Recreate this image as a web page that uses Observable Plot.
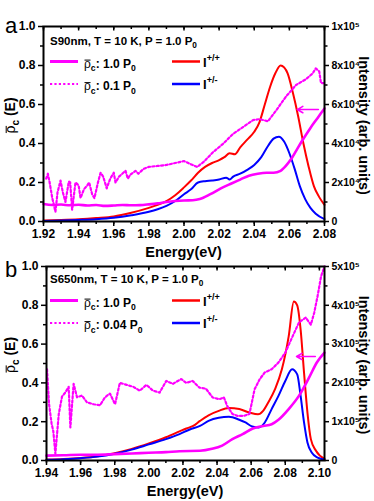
<!DOCTYPE html>
<html><head><meta charset="utf-8">
<script src="https://cdn.jsdelivr.net/npm/d3@7"></script>
<script src="https://cdn.jsdelivr.net/npm/@observablehq/plot@0.6"></script>
<style>
body{margin:0;background:#fff;}
#chart{width:374px;height:501px;position:relative;overflow:hidden;background:#fff;}
#chart svg{position:absolute;left:0;overflow:visible;}
</style></head><body><div id="chart"></div>
<script>
// ---------- Panel a (S90nm) ----------
const aXDomain = [1.92, 2.08];
const aXTicks = [1.92, 1.94, 1.96, 1.98, 2.00, 2.02, 2.04, 2.06, 2.08];
const rhoTicks = [0, 0.2, 0.4, 0.6, 0.8, 1.0];
const rhoMinor = [0.1, 0.3, 0.5, 0.7, 0.9];
const aIntMax = 100000;
const aIntTicks = [0, 20000, 40000, 60000, 80000, 100000];
const aIntLabels = ["0", "2x10⁴", "4x10⁴", "6x10⁴", "8x10⁴", "1x10⁵"];

const aRedE = [1.92, 1.93, 1.94, 1.95, 1.96, 1.97, 1.98, 1.985, 1.99, 1.995, 2.0, 2.004, 2.008, 2.012, 2.016, 2.02, 2.023, 2.026, 2.029, 2.032, 2.036, 2.04, 2.043, 2.046, 2.049, 2.052, 2.055, 2.057, 2.059, 2.062, 2.065, 2.068, 2.071, 2.074, 2.077, 2.08];
const aRedI = [500, 800, 1200, 1800, 2600, 4500, 7000, 8500, 10500, 13500, 17500, 21000, 25000, 28000, 30000, 31500, 33000, 35000, 34500, 38000, 42000, 46000, 51000, 60000, 69000, 76000, 80000, 79000, 76000, 66000, 54000, 40000, 28000, 18000, 12500, 8500];

const aBlueE = [1.92, 1.93, 1.94, 1.95, 1.96, 1.97, 1.98, 1.985, 1.99, 1.995, 2.0, 2.004, 2.008, 2.012, 2.016, 2.02, 2.024, 2.026, 2.028, 2.032, 2.036, 2.04, 2.044, 2.048, 2.051, 2.054, 2.057, 2.06, 2.063, 2.066, 2.069, 2.072, 2.075, 2.08];
const aBlueI = [300, 500, 800, 1200, 1900, 3200, 5000, 6300, 8000, 10500, 14000, 16500, 20000, 20700, 21000, 21500, 22500, 21500, 23000, 24500, 26500, 29000, 33000, 39000, 42500, 43500, 41000, 35000, 27000, 18000, 11500, 7000, 4000, 1200];

const aRhoHighE = [1.92, 1.925, 1.93, 1.935, 1.94, 1.945, 1.95, 1.955, 1.96, 1.965, 1.97, 1.975, 1.98, 1.985, 1.99, 1.995, 2.0, 2.005, 2.009, 2.015, 2.021, 2.027, 2.032, 2.037, 2.042, 2.047, 2.051, 2.055, 2.058, 2.061, 2.064, 2.067, 2.072, 2.076, 2.08];
const aRhoHigh = [0.09, 0.085, 0.087, 0.083, 0.086, 0.082, 0.085, 0.08, 0.082, 0.085, 0.083, 0.084, 0.088, 0.093, 0.1, 0.105, 0.108, 0.109, 0.115, 0.14, 0.17, 0.195, 0.215, 0.235, 0.245, 0.25, 0.25, 0.26, 0.285, 0.32, 0.365, 0.41, 0.48, 0.53, 0.58];

const aRhoLowE = [1.9215, 1.9225, 1.9235, 1.925, 1.9268, 1.928, 1.9297, 1.931, 1.9325, 1.9344, 1.9352, 1.9363, 1.9382, 1.94, 1.9411, 1.943, 1.9449, 1.946, 1.9477, 1.949, 1.951, 1.9525, 1.954, 1.956, 1.958, 1.96, 1.961, 1.963, 1.9667, 1.968, 1.9695, 1.9724, 1.974, 1.977, 1.98, 1.985, 1.99, 1.995, 2.0, 2.0035, 2.0075, 2.011, 2.0165, 2.0222, 2.028, 2.0336, 2.0393, 2.043, 2.0478, 2.0525, 2.058, 2.0638, 2.0695, 2.0733, 2.075, 2.077, 2.078, 2.08];
const aRhoLow = [0.22, 0.245, 0.2, 0.12, 0.05, 0.15, 0.21, 0.15, 0.1, 0.205, 0.2, 0.06, 0.2, 0.185, 0.12, 0.165, 0.185, 0.2, 0.14, 0.12, 0.2, 0.25, 0.23, 0.17, 0.22, 0.25, 0.2, 0.23, 0.26, 0.22, 0.24, 0.26, 0.245, 0.27, 0.28, 0.285, 0.29, 0.3, 0.31, 0.295, 0.28, 0.304, 0.355, 0.398, 0.45, 0.484, 0.52, 0.525, 0.514, 0.57, 0.64, 0.7, 0.73, 0.76, 0.785, 0.77, 0.71, 0.71];

const aArrow = [{E1: 2.0765, r1: 0.574, E2: 2.0645, r2: 0.574}];

// ---------- Panel b (S650nm) ----------
const bXDomain = [1.94, 2.103];
const bXTicks = [1.94, 1.96, 1.98, 2.00, 2.02, 2.04, 2.06, 2.08, 2.10];
const bIntMax = 500000;
const bIntTicks = [0, 100000, 200000, 300000, 400000, 500000];
const bIntLabels = ["0", "1x10⁵", "2x10⁵", "3x10⁵", "4x10⁵", "5x10⁵"];

const bRedE = [1.94, 1.95, 1.96, 1.97, 1.98, 1.99, 2.0, 2.01, 2.018, 2.022, 2.026, 2.03, 2.035, 2.041, 2.047, 2.053, 2.059, 2.064, 2.067, 2.07, 2.074, 2.078, 2.082, 2.085, 2.087, 2.089, 2.091, 2.093, 2.095, 2.098, 2.103];
const bRedI = [2500, 4000, 6500, 11000, 19000, 30000, 44000, 60000, 75000, 82500, 89000, 102000, 116500, 128000, 135000, 132500, 123500, 119000, 128000, 149500, 184000, 235000, 320000, 410000, 400000, 337500, 226500, 123500, 55000, 25000, 4000];

const bBlueE = [1.94, 1.95, 1.96, 1.97, 1.98, 1.99, 2.0, 2.01, 2.018, 2.024, 2.03, 2.035, 2.041, 2.047, 2.053, 2.0567, 2.0606, 2.0645, 2.068, 2.072, 2.076, 2.08, 2.084, 2.087, 2.089, 2.091, 2.093, 2.0956, 2.099, 2.103];
const bBlueI = [2000, 3500, 6000, 10000, 17500, 28000, 41500, 55000, 68000, 80000, 89000, 102000, 110000, 112500, 105000, 98000, 87500, 85000, 98000, 132500, 166500, 205000, 235000, 222000, 166500, 98000, 46500, 20000, 7500, 2500];

const bRhoHighE = [1.94, 1.95, 1.96, 1.97, 1.98, 1.99, 2.0, 2.01, 2.018, 2.03, 2.037, 2.043, 2.049, 2.055, 2.061, 2.067, 2.072, 2.076, 2.082, 2.088, 2.094, 2.0985, 2.103];
const bRhoHigh = [0.025, 0.027, 0.03, 0.03, 0.033, 0.036, 0.04, 0.043, 0.048, 0.05, 0.06, 0.077, 0.11, 0.136, 0.165, 0.178, 0.187, 0.21, 0.265, 0.333, 0.428, 0.505, 0.556];

const bRhoLowE = [1.9403, 1.9415, 1.943, 1.944, 1.9452, 1.9472, 1.9491, 1.951, 1.953, 1.954, 1.9559, 1.9579, 1.9608, 1.9637, 1.9675, 1.9714, 1.9743, 1.9772, 1.9802, 1.983, 1.987, 1.9908, 1.9947, 1.9986, 2.0024, 2.0063, 2.0102, 2.0141, 2.019, 2.0219, 2.0257, 2.0296, 2.0335, 2.0374, 2.0413, 2.044, 2.046, 2.049, 2.052, 2.0557, 2.059, 2.062, 2.065, 2.068, 2.072, 2.076, 2.08, 2.084, 2.088, 2.092, 2.095, 2.097, 2.099, 2.101, 2.103];
const bRhoLow = [0.47, 0.29, 0.19, 0.15, 0.035, 0.24, 0.33, 0.35, 0.38, 0.17, 0.395, 0.326, 0.335, 0.3, 0.29, 0.285, 0.326, 0.345, 0.29, 0.4, 0.39, 0.38, 0.36, 0.39, 0.36, 0.35, 0.41, 0.395, 0.42, 0.4, 0.41, 0.376, 0.37, 0.325, 0.316, 0.325, 0.28, 0.24, 0.23, 0.23, 0.24, 0.367, 0.419, 0.454, 0.47, 0.505, 0.556, 0.634, 0.711, 0.737, 0.7, 0.763, 0.85, 0.95, 1.0];

const bArrow = [{E1: 2.0976, r1: 0.536, E2: 2.0866, r2: 0.536}];

// ---------- rendering ----------
const MAGENTA = "#ff00ff", RED = "#ff0000", BLUE = "#0000ff";
const FONT = "'Liberation Sans', Arial, Helvetica, sans-serif";
const DOTS = "2.2,2.2";
const tbl = (E, V) => E.map((e, i) => ({E: e, V: V[i]}));

function minorTicks(domain) {
  const out = [];
  const a = Math.ceil(domain[0] * 100 - 1e-6), b = Math.floor(domain[1] * 100 + 1e-6);
  for (let k = a; k <= b; k++) out.push(k / 100);
  return out;
}

function panel(cfg) {
  const minor = minorTicks(cfg.xDomain);
  const intNorm = cfg.intTicks.map(v => v / cfg.intMax);
  const plotH = cfg.height - cfg.marginTop - cfg.marginBottom;
  const tk = h => 1 - h / plotH;
  return Plot.plot({
    width: 374, height: cfg.height,
    marginLeft: cfg.marginLeft, marginRight: 50, marginTop: cfg.marginTop, marginBottom: cfg.marginBottom,
    x: {domain: cfg.xDomain, label: null},
    y: {domain: [0, 1], label: null},
    style: {fontFamily: FONT, background: "transparent", overflow: "visible", color: "black"},
    marks: [
      Plot.line(tbl(cfg.redE, cfg.redI), {x: "E", y: d => d.V / cfg.intMax, stroke: RED, strokeWidth: 2, curve: "monotone-x"}),
      Plot.line(tbl(cfg.blueE, cfg.blueI), {x: "E", y: d => d.V / cfg.intMax, stroke: BLUE, strokeWidth: 2, curve: "monotone-x"}),
      Plot.line(tbl(cfg.hiE, cfg.hi), {x: "E", y: "V", stroke: MAGENTA, strokeWidth: 2.6, curve: "monotone-x"}),
      Plot.line(tbl(cfg.loE, cfg.lo), {x: "E", y: "V", stroke: MAGENTA, strokeWidth: 2.2, strokeDasharray: DOTS}),
      Plot.arrow(cfg.arrow, {x1: "E1", y1: "r1", x2: "E2", y2: "r2", stroke: MAGENTA, strokeWidth: 1.6, headLength: 6}),
      // axes
      Plot.axisX({ticks: cfg.xTicks, tickSize: 5, tickPadding: 3, strokeWidth: 1.5, tickFormat: d3.format(".2f"), fontSize: 12, fontWeight: "bold", label: null}),
      Plot.axisX({ticks: minor, tickSize: 3, strokeWidth: 1.5, tickFormat: () => "", label: null}),
      Plot.ruleX(cfg.xTicks, {x: d => d, y1: 1, y2: tk(4.5), stroke: "black", strokeWidth: 1.5}),
      Plot.ruleX(minor, {x: d => d, y1: 1, y2: tk(3), stroke: "black", strokeWidth: 1.5}),
      Plot.axisY({anchor: "left", ticks: rhoTicks, tickSize: 5, tickPadding: 3, strokeWidth: 1.5, tickFormat: d3.format(".1f"), fontSize: 12, fontWeight: "bold", label: null}),
      Plot.axisY({anchor: "left", ticks: rhoMinor, tickSize: 3, strokeWidth: 1.5, tickFormat: () => "", label: null}),
      Plot.axisY({anchor: "right", ticks: intNorm, tickSize: 4, tickPadding: 3, strokeWidth: 1.5,
        tickFormat: d => cfg.intLabels[intNorm.findIndex(v => Math.abs(v - d) < 1e-9)],
        fontSize: 10.5, fontWeight: "bold", label: null}),
      Plot.axisY({anchor: "right", ticks: rhoMinor, tickSize: 2.5, strokeWidth: 1.5, tickFormat: () => "", label: null}),
      Plot.frame({stroke: "black", strokeWidth: 2})
    ]
  });
}

function rich(g, x, y, size, parts, anchor) {
  const t = g.append("text").attr("x", x).attr("y", y).attr("font-size", size)
    .attr("font-weight", "bold").attr("fill", "black").attr("text-anchor", anchor || "start");
  let shift = 0;
  for (const p of parts) {
    const s = t.append("tspan").text(p.t);
    let target = 0;
    if (p.sub) { s.attr("font-size", size * 0.72); target = size * 0.3; }
    if (p.sup) { s.attr("font-size", size * 0.7); target = -size * 0.45; }
    if (p.normal) s.attr("font-weight", "normal");
    s.attr("dy", target - shift);
    shift = target;
  }
  return t;
}

const overlines = [];
function rhoText(g, x, y, size, rest, anchor) {
  const parts = [{t: "ρ", normal: true}, {t: "c", sub: true}].concat(rest);
  const t = rich(g, x, y, size, parts, anchor);
  overlines.push({t, size});
  return t;
}

function decorate(svg, cfg) {
  const s = d3.select(svg);
  const g = s.append("g").attr("text-anchor", "start");
  const top = cfg.marginTop, bottom = cfg.height - cfg.marginBottom;
  const left = cfg.marginLeft, right = 324;
  g.append("text").attr("x", 5).attr("y", top + cfg.letterDy).attr("font-size", 22).attr("text-anchor", "start").attr("fill", "black").text(cfg.letter);
  g.append("text").attr("x", (left + right) / 2).attr("y", bottom + 36).attr("text-anchor", "middle")
    .attr("font-size", 14.5).attr("font-weight", "bold").text("Energy(eV)");
  const mid = (top + bottom) / 2;
  g.append("text").attr("transform", `translate(364,${mid + 2}) rotate(90)`).attr("text-anchor", "middle")
    .attr("dominant-baseline", "central").attr("font-size", 14.5).attr("font-weight", "bold").text("Intensity (arb. units)");
  const gl = g.append("g").attr("transform", `translate(15,${mid - 8}) rotate(-90)`);
  rhoText(gl, 0, 0, 14, [{t: " (E)"}], "middle");
  const L = cfg.legend;
  rich(g, 50, L.title, 11.5, [{t: cfg.title}, {t: "0", sub: true}]);
  g.append("line").attr("x1", 50).attr("x2", 78).attr("y1", L.l1).attr("y2", L.l1).attr("stroke", MAGENTA).attr("stroke-width", 3);
  rhoText(g, 84, L.l1 + 6, 12, [{t: ": 1.0 P"}, {t: "0", sub: true}]);
  g.append("line").attr("x1", 50).attr("x2", 78).attr("y1", L.l2).attr("y2", L.l2).attr("stroke", MAGENTA).attr("stroke-width", 2.2).attr("stroke-dasharray", DOTS);
  rhoText(g, 84, L.l2 + 6, 12, [{t: cfg.lowLabel}, {t: "0", sub: true}]);
  g.append("line").attr("x1", 172).attr("x2", 200).attr("y1", L.l1).attr("y2", L.l1).attr("stroke", RED).attr("stroke-width", 2.5);
  rich(g, 203, L.l1 + 5, 13, [{t: "I"}, {t: "+/+", sup: true}]);
  g.append("line").attr("x1", 172).attr("x2", 200).attr("y1", L.l2).attr("y2", L.l2).attr("stroke", BLUE).attr("stroke-width", 2.5);
  rich(g, 203, L.l2 + 5, 13, [{t: "I"}, {t: "+/-", sup: true}]);
}

const root = document.getElementById("chart");
const cfgA = {
  height: 262, marginTop: 26, marginBottom: 41, marginLeft: 43, xDomain: aXDomain, xTicks: aXTicks,
  intMax: aIntMax, intTicks: aIntTicks, intLabels: aIntLabels,
  redE: aRedE, redI: aRedI, blueE: aBlueE, blueI: aBlueI,
  hiE: aRhoHighE, hi: aRhoHigh, loE: aRhoLowE, lo: aRhoLow, arrow: aArrow,
  letter: "a", letterDy: 7, title: "S90nm, T = 10 K, P = 1.0 P", lowLabel: ": 0.1 P",
  legend: {title: 44.5, l1: 61.5, l2: 84}
};
const cfgB = {
  height: 251, marginTop: 16, marginBottom: 41, marginLeft: 46, xDomain: bXDomain, xTicks: bXTicks,
  intMax: bIntMax, intTicks: bIntTicks, intLabels: bIntLabels,
  redE: bRedE, redI: bRedI, blueE: bBlueE, blueI: bBlueI,
  hiE: bRhoHighE, hi: bRhoHigh, loE: bRhoLowE, lo: bRhoLow, arrow: bArrow,
  letter: "b", letterDy: 11, title: "S650nm, T = 10 K, P = 1.0 P", lowLabel: ": 0.04 P",
  legend: {title: 33, l1: 50.5, l2: 73}
};
const svgA = panel(cfgA);
svgA.style.top = "0px";
root.appendChild(svgA);
decorate(svgA, cfgA);
const svgB = panel(cfgB);
svgB.style.top = "250px";
root.appendChild(svgB);
decorate(svgB, cfgB);

for (const {t, size} of overlines) {
  const n = t.node();
  const ext = n.getExtentOfChar(0);
  d3.select(n.parentNode).append("line")
    .attr("x1", ext.x + 0.5).attr("x2", ext.x + ext.width - 0.3)
    .attr("y1", ext.y + 0.3 * size).attr("y2", ext.y + 0.3 * size)
    .attr("stroke", "black").attr("stroke-width", 1);
}
</script></body></html>
